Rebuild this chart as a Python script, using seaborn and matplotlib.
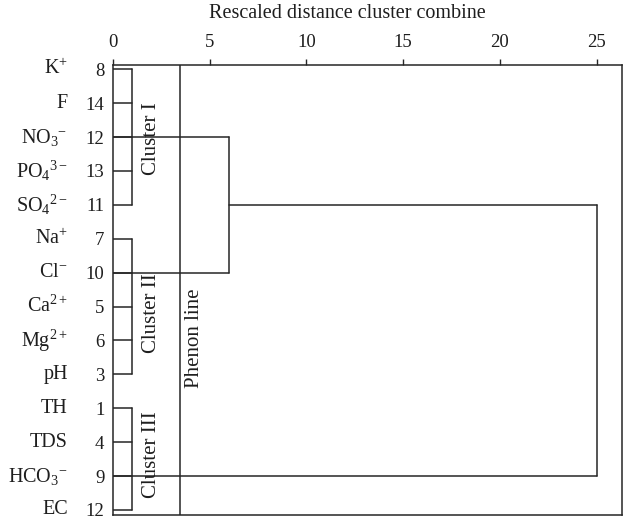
import numpy as np
import pandas as pd
import matplotlib
matplotlib.use("Agg")
import matplotlib.pyplot as plt
import seaborn as sns

# ---- data ----
ions = ["K$^{+}$", "F", "NO$_{3}$$^{-}$", "PO$_{4}$$^{3-}$", "SO$_{4}$$^{2-}$",
        "Na$^{+}$", "Cl$^{-}$", "Ca$^{2+}$", "Mg$^{2+}$", "pH",
        "TH", "TDS", "HCO$_{3}$$^{-}$", "EC"]
case_numbers = ["8", "14", "12", "13", "11", "7", "10", "5", "6", "3", "1", "4", "9", "12"]
cluster_names = ["Cluster I", "Cluster II", "Cluster III"]
cluster_first_row = [0, 5, 10]
cluster_last_row = [4, 9, 13]
cluster_join_dist = [1.0, 1.0, 1.0]
# higher level merges
merge_row_a = [2, 4]
merge_row_b = [6, 12]
merge_dist = [6.0, 25.0]
merge_left_a = [0.0, 6.0]
phenon_dist = 3.5
x_ticks = [0, 5, 10, 15, 20, 25]

# ---- build segments ----
segs = []
sid = 0
for first, last, d in zip(cluster_first_row, cluster_last_row, cluster_join_dist):
    for r in range(first, last + 1):
        segs.append((sid, 0.0, r)); segs.append((sid, d, r)); sid += 1
    segs.append((sid, d, first)); segs.append((sid, d, last)); sid += 1
for ra, rb, d, la in zip(merge_row_a, merge_row_b, merge_dist, merge_left_a):
    segs.append((sid, la, ra)); segs.append((sid, d, ra)); sid += 1
    segs.append((sid, 0.0, rb)); segs.append((sid, d, rb)); sid += 1
    segs.append((sid, d, ra)); segs.append((sid, d, rb)); sid += 1
df = pd.DataFrame(segs, columns=["seg", "x", "y"])

sns.set_theme(style="white")
plt.rcParams["font.family"] = ["Liberation Serif", "DejaVu Serif"]
plt.rcParams["mathtext.fontset"] = "custom"
plt.rcParams["mathtext.rm"] = "Liberation Serif"
plt.rcParams["mathtext.it"] = "Liberation Serif:italic"
plt.rcParams["mathtext.default"] = "rm"

W, H = 623, 517
fig = plt.figure(figsize=(W / 100, H / 100), dpi=100)
ax = fig.add_axes([112.7 / W, 1 - 515 / H, (621.5 - 112.7) / W, (515 - 64.5) / H])

line_col = "#262626"
txt_col = "#1e1e1e"
sns.lineplot(data=df, x="x", y="y", units="seg", estimator=None, sort=False,
             color=line_col, linewidth=1.1, ax=ax, legend=False)
ax.axvline(phenon_dist, color=line_col, linewidth=1.1)

px_per_unit = (596.7 - 112.7) / 25
ax.set_xlim(0, (621.5 - 112.7) / px_per_unit)
ax.set_ylim(13.15, -0.14)

ax.xaxis.tick_top()
ax.set_xticks(x_ticks)
ax.set_xticklabels([str(t) for t in x_ticks])
ax.tick_params(axis="x", direction="out", length=4.5, width=1.0, color=line_col,
               pad=5, labelsize=13.5, top=True, bottom=False, labelcolor=txt_col)
ax.set_yticks(range(len(case_numbers)))
ax.set_yticklabels(case_numbers)
ax.tick_params(axis="y", length=0, pad=6, labelsize=13.5, labelcolor=txt_col)
ax.set_xlabel("")
ax.set_ylabel("")
for s in ax.spines.values():
    s.set_visible(True)
    s.set_color(line_col)
    s.set_linewidth(1.1)

# ion labels
for i, lab in enumerate(ions):
    ax.annotate(lab, xy=(0, i), xycoords=("axes fraction", "data"),
                xytext=(-45, 0), textcoords="offset pixels",
                ha="right", va="center", fontsize=14.5, color=txt_col)

# cluster labels
cluster_text_y = [2.05, 7.19, 11.37]
for name, ty in zip(cluster_names, cluster_text_y):
    ax.text(1.98, ty, name, rotation=90, ha="center", va="center",
            fontsize=15, color=txt_col)
ax.text(4.25, 7.93, "Phenon line", rotation=90, ha="center", va="center",
        fontsize=15, color=txt_col)

fig.text(347 / W, 1 - 13 / H, "Rescaled distance cluster combine",
         ha="center", va="center", fontsize=14.5, color=txt_col)

fig.savefig("out.png", dpi=100)
